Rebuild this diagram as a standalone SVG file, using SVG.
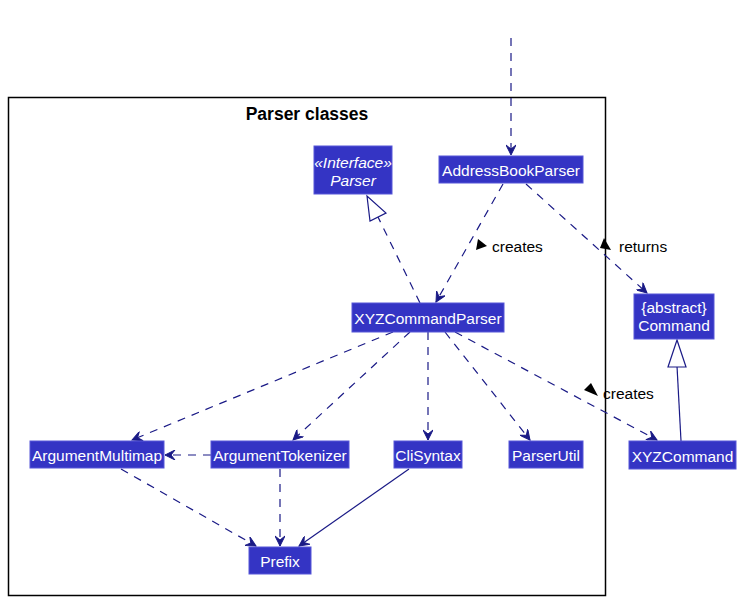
<svg xmlns="http://www.w3.org/2000/svg" width="743" height="602" viewBox="0 0 743 602">
<defs>
<style>
.node rect{fill:#3434C4;stroke:#5656D8;stroke-width:1}
.node text{fill:#FFFFFF;font-family:"Liberation Sans",Arial,sans-serif;font-size:15.5px;text-anchor:middle}
.node text.it{font-style:italic}
.edge{fill:none;stroke:#1A1A86;stroke-width:1.2}
.dash{stroke-dasharray:8,7}
.lbl{fill:#000000;font-family:"Liberation Sans",Arial,sans-serif;font-size:15.5px}
.tri{fill:#000000}
.title{fill:#000000;font-family:"Liberation Sans",Arial,sans-serif;font-size:17.5px;font-weight:bold;text-anchor:middle}
</style>
<marker id="arr" viewBox="0 0 12 10" refX="11" refY="5" markerWidth="12" markerHeight="10" markerUnits="userSpaceOnUse" orient="auto">
<path d="M11,5 L1,0 L5,5 L1,10 Z" fill="#1A1A86" stroke="#1A1A86" stroke-width="1"/>
</marker>
<marker id="hollow" viewBox="0 0 20 20" refX="0" refY="10" markerWidth="20" markerHeight="20" markerUnits="userSpaceOnUse" orient="auto">
<path d="M0,10 L25,2 L25,18 Z" fill="#FFFFFF" stroke="#1A1A86" stroke-width="1.2"/>
</marker>
</defs>
<rect x="0" y="0" width="743" height="602" fill="#FFFFFF"/>
<g id="frame">
<rect x="8.5" y="97.5" width="597" height="498" fill="none" stroke="#000000" stroke-width="1.5"/>
<text class="title" x="307" y="120">Parser classes</text>
</g>
<g id="connectors">
<path class="edge dash" d="M511,38 L511,155" marker-end="url(#arr)"/>
<path class="edge dash" d="M503,184 L436,302" marker-end="url(#arr)"/>
<path class="edge dash" d="M526,184 L647,293" marker-end="url(#arr)"/>
<path class="edge dash" d="M420,303 L378,217"/>
<polygon points="367,196 370,221 386,213" fill="#FFFFFF" stroke="#1A1A86" stroke-width="1.2"/>
<path class="edge dash" d="M393,332 L132,440" marker-end="url(#arr)"/>
<path class="edge dash" d="M410,332 L293,440" marker-end="url(#arr)"/>
<path class="edge dash" d="M428,332 L428,440" marker-end="url(#arr)"/>
<path class="edge dash" d="M445,332 L530,440" marker-end="url(#arr)"/>
<path class="edge dash" d="M455,332 L657,440" marker-end="url(#arr)"/>
<path class="edge" d="M681,441 L677,366"/>
<polygon points="677,340 668,367 686,367" fill="#FFFFFF" stroke="#1A1A86" stroke-width="1.2"/>
<path class="edge dash" d="M211,455 L165,455" marker-end="url(#arr)"/>
<path class="edge dash" d="M121,469 L256,546" marker-end="url(#arr)"/>
<path class="edge dash" d="M280,469 L280,546" marker-end="url(#arr)"/>
<path class="edge" d="M409,469 L299,546" marker-end="url(#arr)"/>
<polygon class="tri" points="478,239 476,250 487,246"/>
<text class="lbl" x="492" y="252">creates</text>
<polygon class="tri" points="604,238 600,248 611,250"/>
<text class="lbl" x="619" y="252">returns</text>
<polygon class="tri" points="584,390 591,383 598,396"/>
<text class="lbl" x="603" y="399">creates</text>
</g>
<g id="Parser" class="node">
<rect x="314" y="146" width="78" height="48"/>
<text class="it" x="353" y="168">«Interface»</text>
<text class="it" x="353" y="186">Parser</text>
</g>
<g id="AddressBookParser" class="node">
<rect x="439" y="156" width="144" height="27"/>
<text x="511" y="176">AddressBookParser</text>
</g>
<g id="XYZCommandParser" class="node">
<rect x="352" y="303" width="152" height="29"/>
<text x="428" y="324">XYZCommandParser</text>
</g>
<g id="Command" class="node">
<rect x="634" y="294" width="80" height="45"/>
<text x="674" y="313">{abstract}</text>
<text x="674" y="331">Command</text>
</g>
<g id="XYZCommand" class="node">
<rect x="629" y="441" width="107" height="28"/>
<text x="682.5" y="462">XYZCommand</text>
</g>
<g id="ArgumentMultimap" class="node">
<rect x="30" y="441" width="134" height="27"/>
<text x="97" y="461">ArgumentMultimap</text>
</g>
<g id="ArgumentTokenizer" class="node">
<rect x="211" y="441" width="138" height="27"/>
<text x="280" y="461">ArgumentTokenizer</text>
</g>
<g id="CliSyntax" class="node">
<rect x="394" y="441" width="68" height="27"/>
<text x="428" y="461">CliSyntax</text>
</g>
<g id="ParserUtil" class="node">
<rect x="509" y="441" width="74" height="27"/>
<text x="546" y="461">ParserUtil</text>
</g>
<g id="Prefix" class="node">
<rect x="249" y="547" width="62" height="27"/>
<text x="280" y="567">Prefix</text>
</g>
</svg>
